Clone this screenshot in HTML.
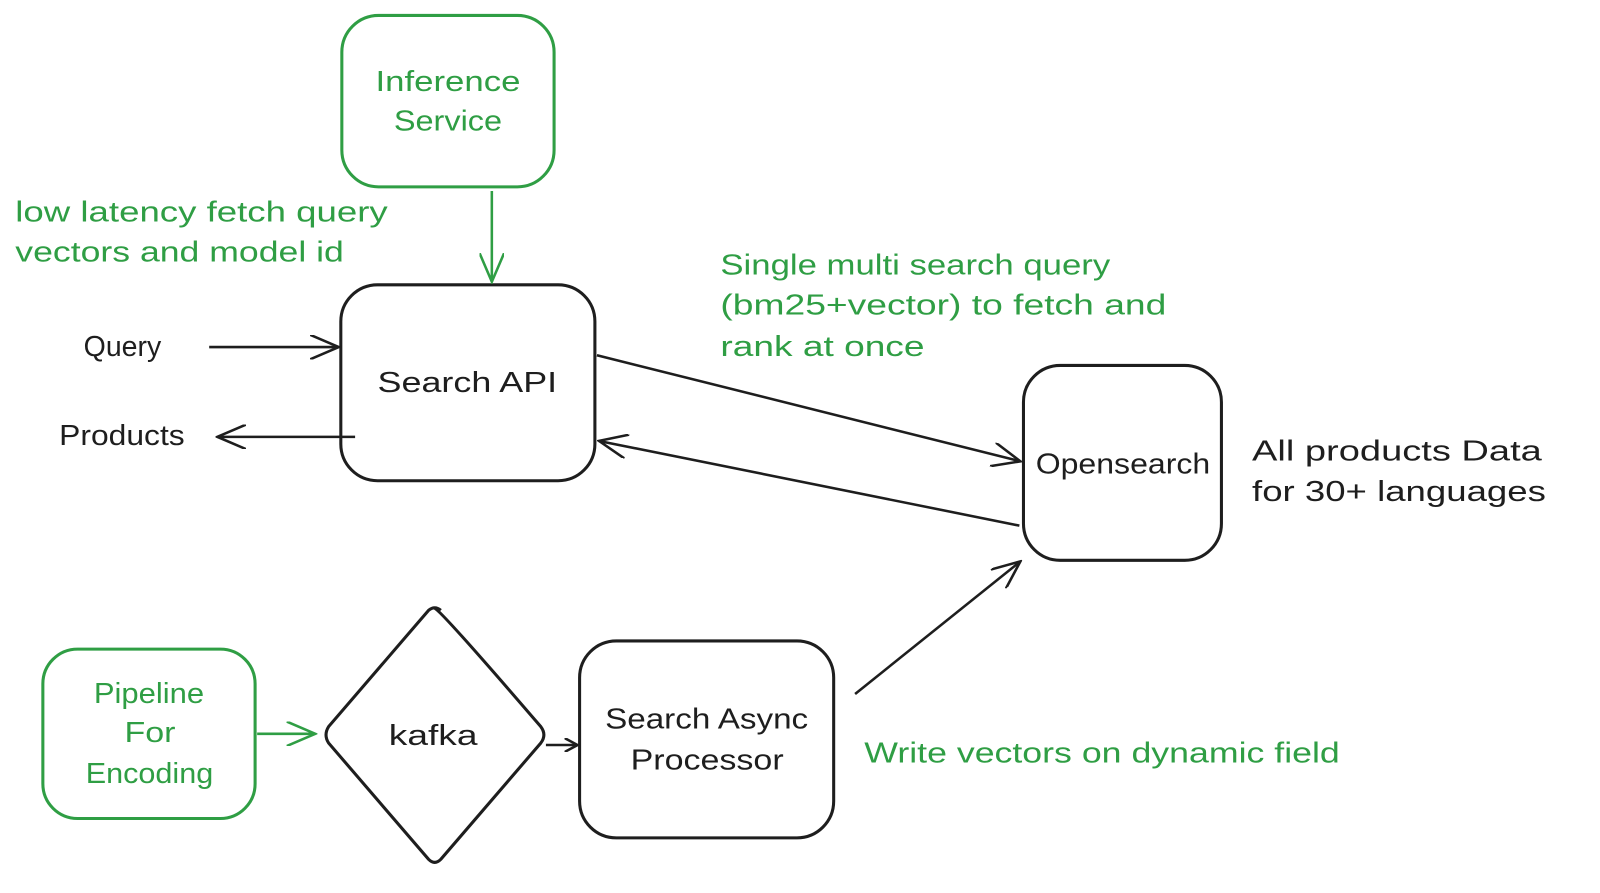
<!DOCTYPE html>
<html><head><meta charset="utf-8"><style>
html,body{margin:0;padding:0;background:#fff;}
svg text{font-family:"Liberation Sans",sans-serif;font-size:28px;}
.g{fill:#2f9e44}.k{fill:#1e1e1e}
</style></head><body>
<svg width="1600" height="888" viewBox="0 0 1568 870" xmlns="http://www.w3.org/2000/svg">
<defs>
<marker id="ak" markerWidth="14" markerHeight="14" refX="12" refY="7" orient="auto" markerUnits="userSpaceOnUse"><path d="M0,0 L13,7 L0,14" fill="none" stroke="#1e1e1e" stroke-width="2.5"/></marker>
<marker id="akb" markerWidth="30" markerHeight="24" refX="28" refY="12" orient="auto" markerUnits="userSpaceOnUse"><path d="M0,0 L28,12 L0,24" fill="none" stroke="#1e1e1e" stroke-width="2.5"/></marker>
<marker id="agb" markerWidth="30" markerHeight="24" refX="28" refY="12" orient="auto" markerUnits="userSpaceOnUse"><path d="M0,0 L28,12 L0,24" fill="none" stroke="#2f9e44" stroke-width="2.5"/></marker>
</defs>
<g fill="none" stroke-width="3">
<rect x="335" y="15" width="208" height="168" rx="36" stroke="#2f9e44"/>
<rect x="334" y="279" width="249" height="192" rx="36" stroke="#1e1e1e"/>
<rect x="1003" y="358" width="194" height="191" rx="36" stroke="#1e1e1e"/>
<rect x="42" y="636" width="208" height="166" rx="34" stroke="#2f9e44"/>
<rect x="568" y="628" width="249" height="193" rx="36" stroke="#1e1e1e"/>
<path d="M426,596 Q432,598 530,712 Q536,720 530,728 L432,842 Q426,848 420,842 L322,728 Q317,720 322,712 L420,598 Q426,593 432,598" stroke="#1e1e1e"/>
</g>
<g fill="none" stroke-width="2.5">
<line x1="482" y1="187" x2="482" y2="276" stroke="#2f9e44" marker-end="url(#agb)"/>
<line x1="205" y1="340" x2="332" y2="340" stroke="#1e1e1e" marker-end="url(#akb)"/>
<line x1="348" y1="428" x2="213" y2="428" stroke="#1e1e1e" marker-end="url(#akb)"/>
<line x1="585" y1="348" x2="1000" y2="452" stroke="#1e1e1e" marker-end="url(#akb)"/>
<line x1="999" y1="515" x2="587" y2="432" stroke="#1e1e1e" marker-end="url(#akb)"/>
<line x1="252" y1="719" x2="309" y2="719" stroke="#2f9e44" marker-end="url(#agb)"/>
<line x1="535" y1="730" x2="565" y2="730" stroke="#1e1e1e" marker-end="url(#ak)"/>
<line x1="838" y1="680" x2="1000" y2="550" stroke="#1e1e1e" marker-end="url(#akb)"/>
</g>
<g>
<text class="g" x="368" y="89" textLength="142" lengthAdjust="spacingAndGlyphs">Inference</text>
<text class="g" x="386" y="128" textLength="106" lengthAdjust="spacingAndGlyphs">Service</text>
<text class="g" x="15" y="217" textLength="365" lengthAdjust="spacingAndGlyphs">low latency fetch query</text>
<text class="g" x="15" y="256" textLength="322" lengthAdjust="spacingAndGlyphs">vectors and model id</text>
<text class="k" x="370" y="384" textLength="176" lengthAdjust="spacingAndGlyphs">Search API</text>
<text class="k" x="82" y="349" textLength="76" lengthAdjust="spacingAndGlyphs">Query</text>
<text class="k" x="58" y="436" textLength="123" lengthAdjust="spacingAndGlyphs">Products</text>
<text class="g" x="706" y="269" textLength="382" lengthAdjust="spacingAndGlyphs">Single multi search query</text>
<text class="g" x="706" y="308" textLength="437" lengthAdjust="spacingAndGlyphs">(bm25+vector) to fetch and</text>
<text class="g" x="706" y="349" textLength="200" lengthAdjust="spacingAndGlyphs">rank at once</text>
<text class="k" x="1015" y="464" textLength="171" lengthAdjust="spacingAndGlyphs">Opensearch</text>
<text class="k" x="1227" y="451" textLength="284" lengthAdjust="spacingAndGlyphs">All products Data</text>
<text class="k" x="1227" y="491" textLength="288" lengthAdjust="spacingAndGlyphs">for 30+ languages</text>
<text class="g" x="92" y="689" textLength="108" lengthAdjust="spacingAndGlyphs">Pipeline</text>
<text class="g" x="122" y="727" textLength="50" lengthAdjust="spacingAndGlyphs">For</text>
<text class="g" x="84" y="767" textLength="125" lengthAdjust="spacingAndGlyphs">Encoding</text>
<text class="k" x="381" y="730" textLength="87" lengthAdjust="spacingAndGlyphs">kafka</text>
<text class="k" x="593" y="714" textLength="199" lengthAdjust="spacingAndGlyphs">Search Async</text>
<text class="k" x="618" y="754" textLength="150" lengthAdjust="spacingAndGlyphs">Processor</text>
<text class="g" x="847" y="747" textLength="466" lengthAdjust="spacingAndGlyphs">Write vectors on dynamic field</text>
</g>
</svg>
</body></html>
